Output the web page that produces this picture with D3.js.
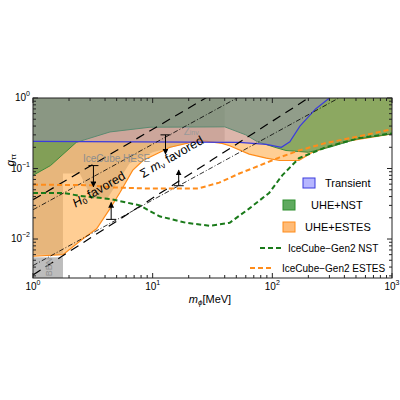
<!DOCTYPE html>
<html><head><meta charset="utf-8">
<script src="https://cdn.jsdelivr.net/npm/d3@7"></script>
<style>body{margin:0;background:#fff}text{font-family:"Liberation Sans",Arial,sans-serif}</style>
</head><body><svg id="c" width="400" height="400"></svg>
<script>
// region boundaries [m, g]
const greenLower = [[1,0.08],[1.4,0.11],[2.3,0.235],[4.4,0.33],[9.5,0.385],[40,0.39],[60,0.3],[75,0.24],[105,0.2],[130,0.18],[200,0.17],[300,0.2],[500,0.26],[1000,0.31]];
const orangeLower = [[1,0.0057],[1.78,0.006],[2.6,0.01],[3.4,0.014],[4.4,0.027],[5.3,0.045],[6.8,0.094],[8.3,0.13],[14,0.2],[24.6,0.25],[38,0.227],[44,0.21],[64,0.16],[89,0.14],[115,0.13],[167,0.13],[216,0.17],[400,0.24],[1000,0.31]];
const heseLower = [[1,0.006],[1.78,0.006],[1.78,0.085],[2.46,0.085],[3.1,0.038],[4.2,0.038],[6.4,0.118],[10,0.17],[20,0.23],[40,0.243]];
const transientLine = [[1,0.243],[53,0.235],[89,0.22],[119,0.2],[140,0.24],[170,0.4],[230,0.7],[300,1]];
const bbnTop = 0.0055, bbnRight = 1.78;
const gen2NST = [[1,0.045],[1.8,0.045],[2.45,0.041],[4.4,0.037],[7.8,0.03],[11.4,0.021],[19,0.017],[30,0.0154],[44,0.017],[64,0.027],[94,0.045],[121,0.08],[167,0.14],[280,0.2],[530,0.27],[1000,0.315]];
const gen2ESTES = [[1,0.059],[3,0.058],[4.4,0.054],[9.5,0.052],[24,0.052],[36,0.063],[53,0.085],[78,0.11],[115,0.144],[167,0.18],[280,0.23],[500,0.28],[1000,0.36]];
// diagonal lines g = c*m^p : [c, p, style]
const diagLines = [[0.036,1,"dash"],[0.026,0.93,"dashdot"],[0.0042,0.93,"dashdot"],[0.0031,1.09,"dash"]];
// arrows [m, g from, g to]
const arrows = [[3.2,0.11,0.055],[12.8,0.3,0.16],[4.5,0.019,0.033],[16.5,0.057,0.095]];
const legendItems = ["Transient","UHE+NST","UHE+ESTES","IceCube\u2212Gen2 NST","IceCube\u2212Gen2 ESTES"];

const L=33,R=392,T=98,B=278;
const x=d3.scaleLog().domain([1,1000]).range([L,R]);
const y=d3.scaleLog().domain([0.0028,1]).range([B,T]);
const svg=d3.select("#c");
svg.append("clipPath").attr("id","clip").append("rect").attr("x",L).attr("y",T).attr("width",R-L).attr("height",B-T);
const g=svg.append("g").attr("clip-path","url(#clip)");
const line=d3.line().x(d=>x(d[0])).y(d=>y(d[1]));
const above=pts=>line(pts)+`L${x(pts[pts.length-1][0])},${T-5}L${x(pts[0][0])},${T-5}Z`;

// BBN
g.append("rect").attr("x",L).attr("y",y(bbnTop)).attr("width",x(bbnRight)-L).attr("height",B-y(bbnTop)).attr("fill","#bdbdbd");
// IceCube HESE
g.append("path").attr("d",above(heseLower)).attr("fill","#8a8a8a").attr("opacity",0.45);
// UHE+ESTES
g.append("path").attr("d",above(orangeLower)).attr("fill","#ffa53c").attr("opacity",0.55);
g.append("path").attr("d",line(orangeLower)).attr("fill","none").attr("stroke","#ff8c1a").attr("stroke-width",1.2);
// UHE+NST
g.append("path").attr("d",above(greenLower)).attr("fill","#3f8f3f").attr("opacity",0.6);
g.append("path").attr("d",line(greenLower)).attr("fill","none").attr("stroke","#3a8a3a").attr("stroke-width",1);
// Transient
g.append("path").attr("d",above(transientLine)).attr("fill","#9a8ad8").attr("opacity",0.35);
g.append("path").attr("d",line(transientLine)).attr("fill","none").attr("stroke","#3b3bdd").attr("stroke-width",1.2);

// diagonal lines
diagLines.forEach(([c,p,s])=>{
  const pts=d3.range(0,3.01,0.5).map(e=>[10**e,c*10**(e*p)]);
  g.append("path").attr("d",line(pts)).attr("fill","none")
   .attr("stroke","#000").attr("stroke-width",s=="dash"?1.2:0.8)
   .attr("stroke-dasharray",s=="dash"?"9,6":"5,2,1,2");
});
// Gen2 curves
g.append("path").attr("d",line(gen2NST)).attr("fill","none").attr("stroke","#1a7a1a").attr("stroke-width",2).attr("stroke-dasharray","5,3");
g.append("path").attr("d",line(gen2ESTES)).attr("fill","none").attr("stroke","#ff8c1a").attr("stroke-width",2).attr("stroke-dasharray","5,3");

// arrows
svg.append("defs").append("marker").attr("id","ah").attr("viewBox","0 0 10 10").attr("refX",9).attr("refY",5)
  .attr("markerWidth",6).attr("markerHeight",6).attr("orient","auto").append("path").attr("d","M0,0L10,5L0,10Z").attr("fill","#000");
arrows.forEach(([m,g0,g1])=>{
  g.append("line").attr("x1",x(m)).attr("y1",y(g0)).attr("x2",x(m)).attr("y2",y(g1)).attr("stroke","#000").attr("stroke-width",1).attr("marker-end","url(#ah)");
  g.append("line").attr("x1",x(m)-5).attr("y1",y(g0)).attr("x2",x(m)+5).attr("y2",y(g0)).attr("stroke","#000");
});

// region labels
const lab=(t,m,gv,col,rot,fs)=>svg.append("text").attr("transform",`translate(${x(m)},${y(gv)}) rotate(${rot})`).attr("fill",col).attr("font-size",fs).attr("text-anchor","middle").html(t);
lab("IceCube HESE",5,0.125,"#8e8e8e",0,10);
lab("Z<tspan font-size='7'>inv</tspan>",21,0.3,"#999",0,10);
lab("BBN",1.45,0.004,"#8e8e8e",-90,9);
lab("<tspan font-style='italic'>H</tspan><tspan font-size='8' dy='2'>0</tspan><tspan dy='-2'> favored</tspan>",3.7,0.045,"#000",-30,12.5);
lab("\u03a3 <tspan font-style='italic'>m</tspan><tspan font-size='8' dy='2'>\u03bd</tspan><tspan dy='-2'> favored</tspan>",15,0.13,"#000",-30,12.5);

// axes
const yt=[0.01,0.1,1];
const ax=svg.append("g");
ax.append("rect").attr("x",L).attr("y",T).attr("width",R-L).attr("height",B-T).attr("fill","none").attr("stroke","#222");
const xMinor=d3.range(0,3).flatMap(e=>d3.range(1,10).map(k=>k*10**e)).concat([1000]);
const yMinor=[];for(let e=-3;e<=0;e++)for(let k=1;k<10;k++){const v=k*10**e;if(v>=0.0028&&v<=1)yMinor.push(v);}
xMinor.forEach(v=>{const len=[1,10,100,1000].includes(v)?5:3;
  ax.append("line").attr("x1",x(v)).attr("x2",x(v)).attr("y1",B).attr("y2",B-len).attr("stroke","#222");
  ax.append("line").attr("x1",x(v)).attr("x2",x(v)).attr("y1",T).attr("y2",T+len).attr("stroke","#222");});
yMinor.forEach(v=>{const len=yt.includes(v)?5:3;
  ax.append("line").attr("x1",L).attr("x2",L+len).attr("y1",y(v)).attr("y2",y(v)).attr("stroke","#222");
  ax.append("line").attr("x1",R).attr("x2",R-len).attr("y1",y(v)).attr("y2",y(v)).attr("stroke","#222");});
[1,10,100,1000].forEach((v,i)=>ax.append("text").attr("x",x(v)).attr("y",B+12).attr("text-anchor","middle").attr("font-size",10)
  .html(`10<tspan font-size='7' dy='-5'>${i}</tspan>`));
yt.forEach((v,i)=>ax.append("text").attr("x",L-3).attr("y",y(v)+3).attr("text-anchor","end").attr("font-size",10)
  .html(i==2?"10<tspan font-size='7' dy='-5'>0</tspan>":`10<tspan font-size='7' dy='-5'>\u2212${2-i}</tspan>`));
svg.append("text").attr("transform","translate(14,160) rotate(-90)").attr("text-anchor","middle").attr("font-size",11)
  .html("<tspan font-style='italic'>g</tspan><tspan font-size='8' dy='2'>\u03c4\u03c4</tspan>");
svg.append("text").attr("x",210).attr("y",303).attr("text-anchor","middle").attr("font-size",11)
  .html("<tspan font-style='italic'>m</tspan><tspan font-size='8' dy='2' font-style='italic'>\u03d5</tspan><tspan dy='-2'>[MeV]</tspan>");

// legend
const boxes=[[303,178,"#b6b6ff","#3b3bdd"],[283,200,"#5faa5f","#2f8f2f"],[283,222,"#ffbb77","#ff8c1a"]];
boxes.forEach(([bx,by,f,s],i)=>{
  svg.append("rect").attr("x",bx).attr("y",by).attr("width",12).attr("height",10).attr("fill",f).attr("stroke",s);
  svg.append("text").attr("x",[325,311,305][i]).attr("y",by+9).attr("font-size",11).text(legendItems[i]);
});
[[260,248,"#1a7a1a",288],[250,268,"#ff8c1a",282]].forEach(([lx,ly,c,tx],i)=>{
  svg.append("line").attr("x1",lx).attr("x2",lx+24).attr("y1",ly).attr("y2",ly).attr("stroke",c).attr("stroke-width",2).attr("stroke-dasharray","5,3");
  svg.append("text").attr("x",tx).attr("y",ly+4).attr("font-size",10).text(legendItems[3+i]);
});
</script></body></html>
